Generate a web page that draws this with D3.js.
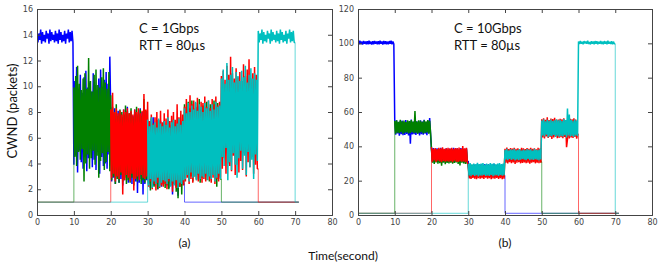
<!DOCTYPE html>
<html>
<head>
<meta charset="utf-8">
<script src="https://cdn.jsdelivr.net/npm/d3@7"></script>
<style>
  body { margin: 0; background: #fff; }
  .tick text { font-family: "DejaVu Sans", sans-serif; font-size: 8px; fill: #444; }
  .lbl { font-family: Lato, "Open Sans", sans-serif; fill: #111; }
</style>
</head>
<body>
<svg></svg>
<script>
const width = 664;
const height = 262;

// sampling of the cwnd traces (seconds) and where the traces stop
const step = 0.25;
const tEnd = 71;
const idleLevel = 1;

const xTicks = [0, 10, 20, 30, 40, 50, 60, 70, 80];
const yTicksA = [0, 2, 4, 6, 8, 10, 12, 14, 16];
const yTicksB = [0, 20, 40, 60, 80, 100, 120];

const flows = ["flow1", "flow2", "flow3", "flow4"];
const colors = ["#0000ff", "#008000", "#ff0000", "#00bfbf"];
const flowStart = [0, 10, 20, 30];

// (a) C = 1Gbps, two lines per 10 s
const blueA = [
  14.3,13.4,14.1,13.6,14.4,13.3,14.2,13.5,14.0,13.4,14.3,13.7,14.1,13.3,14.4,13.5,14.2,13.6,14.0,13.4,
  14.3,13.5,14.1,13.3,14.4,13.6,14.2,13.4,14.0,13.5,14.3,13.3,14.1,13.7,14.4,13.4,14.2,13.5,14.3,13.4,
  3.9,10.4,4.6,11.5,3.3,9.8,5.0,10.9,4.1,9.5,3.6,10.7,4.8,11.2,3.4,9.9,4.4,10.3,5.2,9.6,
  3.7,11.0,4.3,10.1,3.5,9.7,4.9,10.6,3.2,11.3,4.5,9.9,3.8,10.5,4.0,11.1,3.6,10.2,4.7,12.3,
  8.0,2.6,7.7,2.9,8.3,2.4,7.4,3.0,8.1,2.5,7.9,2.8,7.6,2.3,8.2,2.7,7.8,3.1,8.4,2.5,
  7.5,2.8,8.0,2.4,7.7,2.9,8.2,2.6,7.9,1.7,7.6,2.5,8.3,2.8,8.0,1.6,7.8,2.4,8.1,2.7,
  6.9,2.4,7.2,2.1,6.6,2.7,7.6,2.3,6.8,2.5,7.0,2.0,6.7,2.6,7.3,2.2,6.9,2.4,7.1,2.8,
  6.6,2.3,7.4,2.1,6.8,2.5,7.0,1.6,6.7,2.4,7.2,2.2,6.9,1.5,7.1,2.6,6.8,2.3,7.0,2.4
];
const greenA = [
  9.9,4.5,10.8,3.8,11.6,4.9,10.2,4.3,9.7,5.1,10.6,2.6,11.0,4.0,9.8,4.7,12.2,3.6,10.4,4.4,
  9.6,5.0,10.9,3.9,11.3,4.6,10.1,2.9,9.9,4.2,10.7,4.8,11.4,3.5,10.3,4.1,9.8,4.9,11.1,3.4,
  9.3,2.7,8.4,3.0,7.9,2.4,8.6,2.8,7.7,2.5,8.2,3.1,8.0,2.6,7.8,2.9,8.5,2.4,8.1,2.7,
  7.9,2.5,8.3,2.9,7.6,2.3,8.0,2.8,8.4,2.6,7.8,3.0,8.2,2.4,7.7,2.7,9.0,2.5,8.1,2.8,
  7.2,2.5,6.9,1.9,7.5,2.7,6.6,2.2,7.0,2.4,7.4,2.0,6.8,2.6,7.1,2.3,6.7,2.5,7.3,2.1,
  6.9,2.4,7.2,2.0,6.6,2.7,7.0,2.3,7.4,2.5,6.8,1.8,7.1,1.3,6.9,2.2,7.3,1.6,7.0,2.4,
  8.6,2.9,7.9,3.2,8.8,2.7,8.3,3.0,8.9,2.6,8.1,3.3,8.7,2.8,8.4,3.1,9.0,2.5,8.2,2.9,
  8.5,3.0,8.0,2.7,8.8,3.2,8.3,2.6,8.6,2.9,8.1,3.1,8.9,2.8,8.4,2.2,8.7,3.0,8.2,2.8
];
const redA = [
  8.2,2.9,9.5,3.2,8.0,2.6,8.3,3.0,7.9,2.8,8.1,3.3,7.8,1.6,8.2,2.7,8.0,3.1,8.3,2.9,
  7.9,2.6,8.1,3.2,7.8,1.9,8.2,2.8,8.0,3.0,8.3,2.7,7.9,3.1,8.1,2.9,9.4,2.8,8.2,3.0,
  8.8,2.2,7.3,2.6,7.8,2.0,7.1,2.4,7.6,1.9,8.0,2.5,7.4,2.1,8.1,2.3,7.2,2.2,7.9,2.4,
  7.5,2.0,8.2,2.6,7.3,2.3,7.7,1.8,8.0,2.5,7.4,2.1,8.6,2.4,7.6,2.2,8.1,2.5,7.8,2.3,
  8.4,2.6,9.0,2.9,8.2,2.4,9.3,2.8,8.6,2.5,8.9,3.0,8.3,2.7,9.1,2.6,8.5,2.9,8.8,2.5,
  8.7,2.8,9.2,2.6,8.4,3.0,8.9,2.7,8.3,2.5,9.0,2.9,8.6,2.4,9.2,2.8,8.5,2.6,8.8,2.9,
  10.8,3.6,11.2,4.4,10.5,3.2,11.6,4.0,10.9,3.8,12.3,3.4,11.0,4.6,10.6,3.1,11.4,3.9,10.7,3.3,
  11.1,4.2,10.4,3.5,11.7,4.8,10.8,3.0,11.3,4.1,12.1,3.7,10.6,4.5,11.0,3.2,11.5,3.9,10.9,3.6
];
const cyanA = [
  7.4,2.3,6.9,2.8,7.6,2.1,7.0,2.6,7.2,2.4,6.8,2.9,7.5,2.2,7.1,2.5,6.9,2.7,7.3,2.6,
  7.0,2.4,7.6,2.8,6.8,2.2,7.2,2.6,7.4,2.3,6.9,2.7,7.1,2.1,7.5,2.5,7.0,2.4,7.3,2.7,
  8.3,2.8,7.9,3.1,8.7,2.6,8.0,3.3,8.5,2.9,8.2,3.0,8.8,2.7,8.1,3.2,8.6,2.8,8.4,3.0,
  8.0,2.9,8.7,3.2,8.3,2.7,8.9,3.0,8.1,2.8,8.6,3.1,8.2,2.6,8.8,2.9,8.4,3.2,8.5,2.8,
  10.6,4.5,11.3,3.8,10.2,5.2,11.8,2.7,10.5,4.1,10.9,3.5,11.5,4.8,10.3,3.9,11.1,2.9,10.8,4.4,
  10.4,5.0,11.2,3.6,10.7,4.6,11.6,3.1,10.3,4.9,10.9,3.7,11.4,4.3,10.6,2.8,11.0,4.7,10.5,4.2,
  14.3,13.4,14.1,13.6,14.4,13.3,14.2,13.5,14.0,13.4,14.3,13.7,14.1,13.3,14.4,13.5,14.2,13.6,14.0,13.4,
  14.3,13.5,14.1,13.3,14.4,13.6,14.2,13.4,14.0,13.5,14.3,13.3,14.1,13.7,14.4,13.4,14.2,13.5,14.3,13.4
];

// (b) C = 10Gbps
const blueB = [
  101.2,99.4,101.5,99.6,101.0,99.3,101.4,99.7,101.1,99.5,101.3,99.4,101.5,99.6,101.0,99.3,101.2,99.5,101.4,99.8,
  101.0,99.5,101.3,99.4,101.5,99.7,101.1,99.3,101.4,99.6,101.2,99.5,101.0,99.4,101.3,99.8,101.5,99.5,101.1,99.6,
  54.5,46.8,55.2,47.5,53.9,46.2,54.8,47.0,55.0,46.5,54.2,46.6,55.3,47.2,54.0,46.4,54.7,41.5,55.6,46.9,
  54.3,47.1,55.0,46.7,54.6,47.4,53.8,46.3,55.2,47.0,54.4,46.8,55.5,47.3,54.1,46.5,54.9,47.6,56.5,46.9,
  38.5,31.2,39.0,30.6,38.2,31.5,38.8,30.9,38.4,31.0,39.2,30.5,38.6,31.3,38.1,30.8,38.9,31.1,38.3,30.7,
  38.7,31.0,38.2,30.6,39.1,31.4,38.5,30.9,38.8,31.2,38.3,30.5,39.0,31.1,38.6,30.8,38.4,31.3,38.9,30.7,
  31.5,23.0,29.4,22.6,29.0,23.4,29.6,22.8,29.2,23.1,29.8,22.5,29.1,23.3,29.5,22.7,29.3,23.0,29.7,22.9,
  29.2,22.6,29.6,23.2,29.0,22.8,29.4,23.1,29.8,22.5,29.1,23.3,29.5,22.7,29.3,23.0,29.0,22.9,29.6,23.1
];
const greenB = [
  54.8,47.4,55.1,48.0,54.3,47.6,55.4,48.2,54.6,47.3,55.0,47.9,54.2,48.1,55.2,47.5,54.7,47.8,55.3,48.3,
  54.5,47.6,60.5,48.0,54.4,47.3,55.2,47.9,54.8,48.2,54.3,47.5,55.1,47.8,54.6,48.1,55.3,47.4,54.9,47.7,
  37.8,30.4,38.3,29.8,37.5,30.6,38.0,29.9,37.6,30.2,38.4,28.7,37.9,30.5,37.4,29.6,38.1,30.3,37.7,30.0,
  38.2,30.5,37.6,29.9,38.0,30.3,37.4,30.6,38.3,29.7,37.8,28.9,38.1,30.4,37.5,30.1,37.9,29.8,38.2,30.2,
  29.0,22.4,28.6,21.8,29.3,22.6,28.8,22.1,29.1,22.5,28.7,21.9,29.4,22.3,28.9,22.0,29.2,22.7,28.5,22.2,
  28.8,22.5,29.2,21.9,28.6,22.3,29.0,22.6,28.7,22.0,29.3,22.4,28.9,21.8,29.1,22.2,28.5,22.6,29.0,22.1,
  37.6,31.4,38.2,30.9,37.4,31.6,38.0,31.0,37.8,31.3,38.3,30.8,37.5,31.5,38.1,31.1,37.7,31.2,37.9,30.9,
  38.1,31.3,37.5,31.0,38.3,31.5,37.7,30.8,38.0,31.2,37.6,31.4,38.2,30.9,37.8,31.1,37.4,31.3,38.0,31.0
];
const redB = [
  39.5,31.0,38.6,31.8,39.0,30.9,38.4,31.6,39.2,31.2,38.8,30.7,39.4,31.5,38.5,31.1,38.9,31.4,39.1,31.0,
  38.7,31.3,39.2,30.8,38.5,31.6,39.0,31.1,38.8,30.9,39.3,31.4,38.6,31.0,40.2,31.2,38.9,30.7,39.1,31.3,
  28.4,21.3,28.9,21.0,28.2,21.6,28.7,21.2,28.5,20.8,28.8,21.4,28.3,21.1,28.6,21.5,28.1,21.0,28.9,21.7,
  28.6,21.2,28.3,21.5,28.8,20.9,28.4,21.3,28.7,21.1,28.2,21.6,28.9,21.0,28.5,21.4,28.3,20.8,28.7,21.2,
  38.6,30.5,39.3,30.0,38.4,30.8,39.0,30.2,38.7,30.6,39.1,29.8,38.5,30.4,38.9,30.7,38.3,30.1,39.2,30.3,
  38.8,30.6,38.4,30.2,39.0,30.5,38.6,29.9,39.2,30.4,38.5,30.7,38.9,30.1,38.3,30.5,39.1,30.2,38.7,30.4,
  55.8,45.2,56.4,44.6,55.5,45.8,56.9,44.9,55.3,45.4,56.2,44.3,55.9,45.1,56.6,45.6,55.4,44.8,55.6,45.0,
  56.1,45.3,55.7,44.7,56.3,45.5,55.2,39.5,44.2,57.5,44.6,56.0,45.1,55.8,44.9,56.4,45.4,55.6,44.5,47.0
];
const cyanB = [
  29.8,23.0,30.3,22.6,29.5,23.4,30.0,22.8,29.6,23.2,30.4,22.5,29.7,23.1,29.9,22.9,30.2,23.3,29.4,22.7,
  30.0,23.1,29.6,22.8,30.3,23.4,29.8,22.6,30.1,23.0,29.5,23.2,29.9,22.7,30.2,23.3,29.7,22.9,30.0,23.1,
  37.8,32.4,38.5,31.9,37.6,32.6,38.2,32.1,37.9,32.5,38.6,31.8,37.7,32.3,38.0,32.0,38.4,32.2,37.5,32.7,
  38.1,32.3,37.7,32.0,38.4,32.6,37.9,31.9,38.2,32.4,37.6,32.1,38.5,32.5,37.8,32.2,38.0,31.8,38.3,32.4,
  55.0,46.4,55.8,45.7,54.6,46.8,55.4,45.3,54.9,46.1,55.6,45.9,54.8,46.6,55.2,45.4,55.7,46.2,55.1,45.6,
  55.5,46.0,54.7,45.8,55.9,46.5,55.3,45.2,62.0,46.3,58.5,45.7,55.4,46.1,54.9,45.5,55.6,46.4,55.0,45.9,
  101.0,99.6,101.4,99.8,100.9,99.5,101.3,99.9,101.1,99.7,101.5,99.6,100.8,99.4,101.2,99.8,101.0,99.5,101.3,99.7,
  101.2,99.5,100.9,99.8,101.4,99.6,101.0,99.4,101.3,99.7,101.1,99.5,101.5,99.8,100.9,99.6,101.2,99.4,101.0,99.7
];

const panels = [
  { id: "a", series: [blueA, greenA, redA, cyanA], yMax: 16, yTicks: yTicksA,
    left: 37, right: 332, note: ["C = 1Gbps", "RTT = 80\u00b5s"], noteX: 139 },
  { id: "b", series: [blueB, greenB, redB, cyanB], yMax: 120, yTicks: yTicksB,
    left: 358, right: 652, note: ["C = 10Gbps", "RTT = 80\u00b5s"], noteX: 454 }
];
const plotTop = 9, plotBottom = 215;

const svg = d3.select("svg").attr("width", width).attr("height", height);

panels.forEach(p => {
  const x = d3.scaleLinear().domain([0, 80]).range([p.left, p.right]);
  const y = d3.scaleLinear().domain([0, p.yMax]).range([plotBottom, plotTop]);
  const g = svg.append("g");

  g.append("clipPath").attr("id", "clip" + p.id)
    .append("rect").attr("x", p.left).attr("y", plotTop)
    .attr("width", p.right - p.left).attr("height", plotBottom - plotTop);

  const line = d3.line().x(d => x(d[0])).y(d => y(d[1]));
  const plot = g.append("g").attr("clip-path", `url(#clip${p.id})`);

  p.series.forEach((vals, i) => {
    const t0 = flowStart[i];
    const pts = vals.map((v, k) => [t0 + k * step, v]);
    const t1 = t0 + vals.length * step;
    const last = vals[vals.length - 1];
    pts.push([t1, last]);

    // idle parts (before joining / after leaving)
    const idle = [
      [[0, idleLevel], [t0, idleLevel], [t0, vals[0]]],
      [[t1, last], [t1, idleLevel], [tEnd, idleLevel]]
    ];
    idle.forEach(seg => {
      plot.append("path")
        .attr("d", line(seg))
        .attr("fill", "none")
        .attr("stroke", colors[i])
        .attr("stroke-opacity", 0.6)
        .attr("stroke-width", 1);
    });

    plot.append("path")
      .attr("class", flows[i])
      .attr("d", line(pts))
      .attr("fill", "none")
      .attr("stroke", colors[i])
      .attr("stroke-width", 1.5)
      .attr("stroke-linejoin", "bevel");
  });

  // frame + inward ticks on all sides
  g.append("g").attr("transform", `translate(0,${plotBottom})`)
    .call(d3.axisBottom(x).tickValues(xTicks).tickSize(-4).tickPadding(4));
  g.append("g").attr("transform", `translate(0,${plotTop})`)
    .call(d3.axisTop(x).tickValues(xTicks).tickSize(-4).tickFormat(""));
  g.append("g").attr("transform", `translate(${p.left},0)`)
    .call(d3.axisLeft(y).tickValues(p.yTicks).tickSize(-4).tickPadding(4));
  g.append("g").attr("transform", `translate(${p.right},0)`)
    .call(d3.axisRight(y).tickValues(p.yTicks).tickSize(-4).tickFormat(""));
  g.selectAll(".domain").attr("stroke", "#444");
  g.selectAll(".tick line").attr("stroke", "#444");

  g.append("text").attr("class", "lbl")
    .attr("x", p.noteX).attr("y", 33).attr("font-size", 13).text(p.note[0]);
  g.append("text").attr("class", "lbl")
    .attr("x", p.noteX).attr("y", 50).attr("font-size", 13).text(p.note[1]);

  g.append("text").attr("class", "lbl")
    .attr("x", (p.left + p.right) / 2).attr("y", 247)
    .attr("text-anchor", "middle").attr("font-size", 12).text(`(${p.id})`);
});

svg.append("text").attr("class", "lbl")
  .attr("transform", "translate(17,111) rotate(-90)")
  .attr("text-anchor", "middle").attr("font-size", 13)
  .text("CWND (packets)");

svg.append("text").attr("class", "lbl")
  .attr("x", 343).attr("y", 260)
  .attr("text-anchor", "middle").attr("font-size", 12)
  .text("Time(second)");
</script>
</body>
</html>
